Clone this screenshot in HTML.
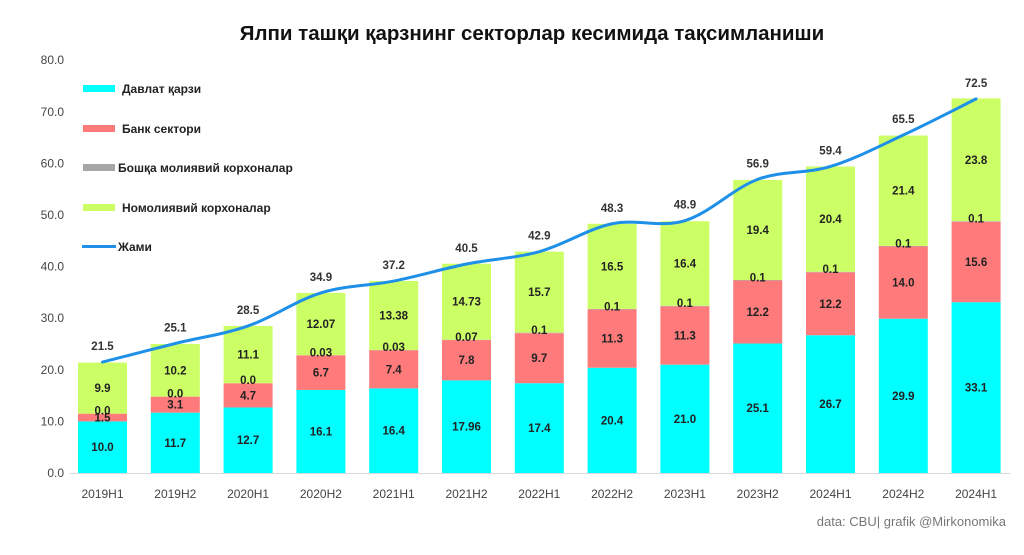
<!DOCTYPE html>
<html><head><meta charset="utf-8"><style>
html,body{margin:0;padding:0;background:#fff}
svg text{font-family:"Liberation Sans","DejaVu Sans",sans-serif}
</style></head><body>
<svg id="c" width="1024" height="550" xmlns="http://www.w3.org/2000/svg">
<rect width="1024" height="550" fill="#fff"/>
<text x="532" y="40" text-anchor="middle" font-size="20.5" font-weight="bold" fill="#111">Ялпи ташқи қарзнинг секторлар кесимида тақсимланиши</text>
<text x="1006" y="526" text-anchor="end" font-size="13" fill="#777">data: CBU| grafik @Mirkonomika</text>
<g font-size="12" font-weight="bold" fill="#222">
<rect x="83" y="85" width="32" height="7" fill="#00ffff"/><text x="122" y="93">Давлат қарзи</text>
<rect x="83" y="125" width="32" height="7" fill="#ff7b7b"/><text x="122" y="133">Банк сектори</text>
<rect x="83" y="164" width="32" height="7" fill="#a6a6a6"/><text x="118" y="172">Бошқа молиявий корхоналар</text>
<rect x="83" y="204" width="32" height="7" fill="#ccff66"/><text x="122" y="212">Номолиявий корхоналар</text>
<rect x="82" y="245" width="34" height="3" fill="#1e90e8"/><text x="118" y="251">Жами</text>
</g>
</svg>
<script>
var s=document.getElementById('c'),NS='http://www.w3.org/2000/svg';
function el(t,a,txt){var e=document.createElementNS(NS,t);for(var k in a)e.setAttribute(k,a[k]);if(txt!=null)e.textContent=txt;s.appendChild(e);return e;}
function Y(v){return 473-5.16*v;}
for(var i=0;i<=8;i++){el('text',{x:64,y:Y(i*10)+4,'text-anchor':'end','font-size':12,fill:'#444'},(i*10).toFixed(1));}
el('line',{x1:70,y1:473.5,x2:1010,y2:473.5,stroke:'#d9d9d9','stroke-width':1});
var cat=['2019H1','2019H2','2020H1','2020H2','2021H1','2021H2','2022H1','2022H2','2023H1','2023H2','2024H1','2024H2','2024H1'];
var g=[10.0,11.7,12.7,16.1,16.4,17.96,17.4,20.4,21.0,25.1,26.7,29.9,33.1];
var b=[1.5,3.1,4.7,6.7,7.4,7.8,9.7,11.3,11.3,12.2,12.2,14.0,15.6];
var o=[0.0,0.0,0.0,0.03,0.03,0.07,0.1,0.1,0.1,0.1,0.1,0.1,0.1];
var n=[9.9,10.2,11.1,12.07,13.38,14.73,15.7,16.5,16.4,19.4,20.4,21.4,23.8];
var t=[21.5,25.1,28.5,34.9,37.2,40.5,42.9,48.3,48.9,56.9,59.4,65.5,72.5];
var gs=['10.0','11.7','12.7','16.1','16.4','17.96','17.4','20.4','21.0','25.1','26.7','29.9','33.1'];
var bs=['1.5','3.1','4.7','6.7','7.4','7.8','9.7','11.3','11.3','12.2','12.2','14.0','15.6'];
var os=['0.0','0.0','0.0','0.03','0.03','0.07','0.1','0.1','0.1','0.1','0.1','0.1','0.1'];
var ns=['9.9','10.2','11.1','12.07','13.38','14.73','15.7','16.5','16.4','19.4','20.4','21.4','23.8'];
var pts=[];
for(var i=0;i<13;i++){
 var cx=102.5+i*72.8,x=cx-24.5,w=49;
 var a=0;
 function seg(v,c){el('rect',{x:x,y:Y(a+v),width:w,height:5.16*v,fill:c});a+=v;}
 seg(g[i],'#00ffff');seg(b[i],'#ff7b7b');seg(o[i],'#a6a6a6');seg(n[i],'#ccff66');
 var L={'text-anchor':'middle','font-size':11.5,'font-weight':'bold',fill:'#222'};
 function lab(v,str){var q=Object.assign({x:cx,y:Y(v)+4},L);el('text',q,str);}
 lab(g[i]/2,gs[i]);lab(g[i]+b[i]/2,bs[i]);lab(g[i]+b[i]+Math.max(o[i],0.6),os[i]);lab(g[i]+b[i]+o[i]+n[i]/2,ns[i]);
 el('text',{x:cx,y:Y(t[i])-12,'text-anchor':'middle','font-size':11.5,'font-weight':'bold',fill:'#333'},t[i].toFixed(1));
 el('text',{x:cx,y:498,'text-anchor':'middle','font-size':12,fill:'#444'},cat[i]);
 pts.push([cx,Y(t[i])]);
}
var d='M'+pts[0][0]+','+pts[0][1];
for(var i=0;i<pts.length-1;i++){
 var p0=pts[Math.max(i-1,0)],p1=pts[i],p2=pts[i+1],p3=pts[Math.min(i+2,pts.length-1)],k=0.17;
 d+=' C'+(p1[0]+(p2[0]-p0[0])*k)+','+(p1[1]+(p2[1]-p0[1])*k)+' '+(p2[0]-(p3[0]-p1[0])*k)+','+(p2[1]-(p3[1]-p1[1])*k)+' '+p2[0]+','+p2[1];
}
el('path',{d:d,fill:'none',stroke:'#1e90e8','stroke-width':3,'stroke-linecap':'round'});
</script>
</body></html>
